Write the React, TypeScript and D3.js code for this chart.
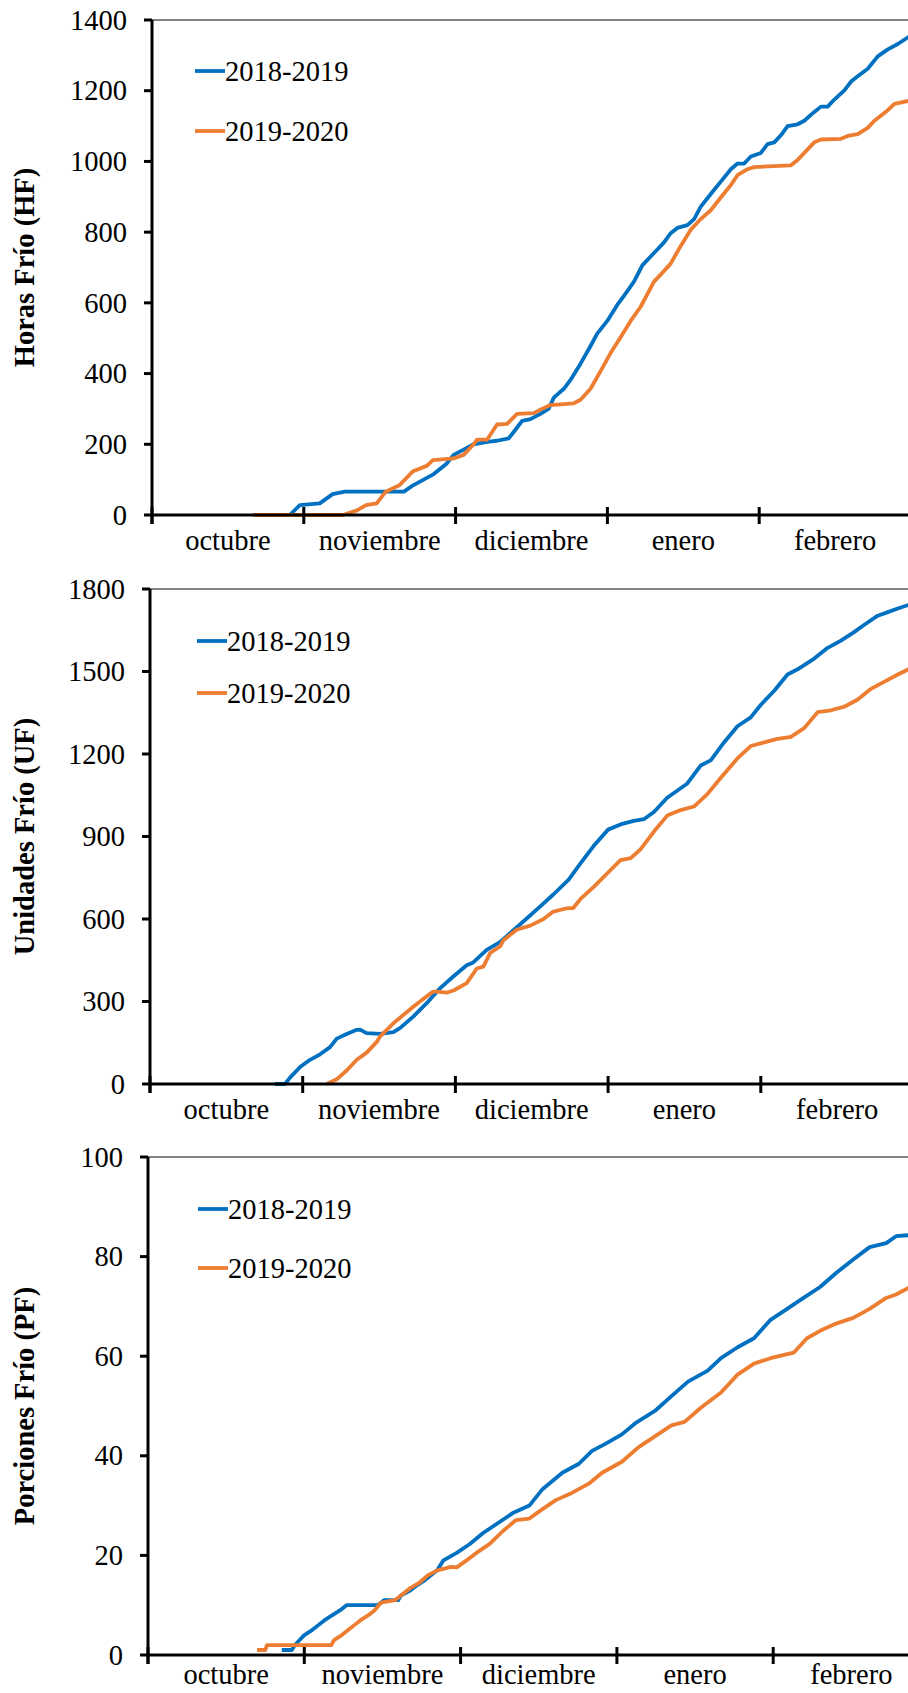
import React from 'react';
import * as d3 from 'd3';

// Month categories on the x axis (Oct 1 → Mar 1, one unit per month)
const MONTHS = ['octubre', 'noviembre', 'diciembre', 'enero', 'febrero'];
const SEASONS = ['2018-2019', '2019-2020'];
const COLORS = ['#0070C0', '#ED7D31'];

// Accumulated chill, [months since Oct 1, value]
const hf1819: [number, number][] = [
  [0.908, 0], [0.974, 28], [1.105, 33], [1.19, 59], [1.27, 66], [1.66, 66], [1.72, 84], [1.85, 114],
  [1.94, 145], [1.987, 170], [2.053, 185], [2.119, 200], [2.207, 207], [2.273, 210], [2.35, 217],
  [2.394, 241], [2.438, 266], [2.493, 271], [2.559, 286], [2.614, 301], [2.647, 332], [2.713, 357],
  [2.757, 382], [2.823, 428], [2.889, 478], [2.933, 513], [2.999, 549], [3.065, 594], [3.109, 620],
  [3.175, 660], [3.23, 706], [3.285, 731], [3.329, 751], [3.373, 771], [3.417, 797], [3.461, 812],
  [3.527, 820], [3.571, 837], [3.615, 872], [3.681, 908], [3.747, 943], [3.813, 978], [3.857, 994],
  [3.901, 994], [3.945, 1014], [4.011, 1024], [4.055, 1049], [4.099, 1054], [4.143, 1074],
  [4.187, 1100], [4.253, 1105], [4.297, 1115], [4.363, 1140], [4.407, 1155], [4.451, 1155],
  [4.495, 1175], [4.561, 1201], [4.605, 1226], [4.649, 1241], [4.715, 1262], [4.781, 1297],
  [4.847, 1317], [4.913, 1332], [4.983, 1352], [5.0, 1355],
];
const hf1920: [number, number][] = [
  [0.667, 0], [1.258, 0], [1.35, 13], [1.41, 28], [1.48, 33], [1.54, 66], [1.63, 84], [1.72, 124],
  [1.81, 139], [1.85, 155], [1.987, 160], [2.053, 170], [2.119, 200], [2.141, 213], [2.207, 213],
  [2.273, 256], [2.339, 258], [2.405, 286], [2.515, 288], [2.559, 298], [2.625, 311], [2.779, 316],
  [2.823, 326], [2.889, 357], [2.955, 407], [3.021, 458], [3.087, 503], [3.153, 549], [3.219, 589],
  [3.307, 660], [3.351, 680], [3.417, 711], [3.483, 761], [3.549, 807], [3.615, 837], [3.681, 862],
  [3.747, 898], [3.813, 933], [3.857, 961], [3.923, 978], [3.967, 984], [4.209, 989], [4.253, 1004],
  [4.319, 1034], [4.363, 1054], [4.407, 1062], [4.539, 1064], [4.583, 1072], [4.649, 1077],
  [4.715, 1095], [4.759, 1115], [4.847, 1145], [4.891, 1163], [4.983, 1171], [5.0, 1172],
];

const uf1819: [number, number][] = [
  [0.819, 0], [0.884, 0], [0.917, 23], [0.983, 62], [1.048, 88], [1.114, 108], [1.179, 134],
  [1.223, 165], [1.288, 182], [1.354, 197], [1.376, 198], [1.419, 185], [1.507, 182], [1.594, 189],
  [1.637, 203], [1.724, 245], [1.812, 294], [1.899, 348], [1.986, 391], [2.074, 432], [2.117, 442],
  [2.205, 488], [2.292, 516], [2.423, 580], [2.554, 645], [2.643, 690], [2.742, 743], [2.818, 801],
  [2.906, 866], [3.0, 925], [3.081, 944], [3.168, 957], [3.234, 963], [3.3, 989], [3.387, 1041],
  [3.519, 1093], [3.606, 1158], [3.672, 1177], [3.759, 1242], [3.847, 1301], [3.934, 1333],
  [3.999, 1378], [4.088, 1430], [4.175, 1489], [4.241, 1508], [4.35, 1547], [4.438, 1586],
  [4.525, 1612], [4.613, 1644], [4.678, 1670], [4.766, 1703], [4.832, 1716], [4.897, 1729],
  [4.967, 1742], [5.0, 1748],
];
const uf1920: [number, number][] = [
  [1.157, 0], [1.223, 17], [1.288, 49], [1.354, 88], [1.419, 114], [1.485, 153], [1.506, 172],
  [1.594, 221], [1.724, 281], [1.834, 328], [1.855, 336], [1.878, 336], [1.943, 332], [1.991, 341],
  [2.074, 367], [2.14, 420], [2.183, 427], [2.228, 477], [2.292, 500], [2.315, 523], [2.401, 561],
  [2.49, 576], [2.578, 600], [2.641, 627], [2.731, 639], [2.772, 640], [2.818, 672], [2.906, 717],
  [3.0, 769], [3.081, 814], [3.147, 821], [3.212, 853], [3.3, 918], [3.387, 976], [3.475, 996],
  [3.562, 1009], [3.65, 1054], [3.737, 1113], [3.847, 1184], [3.934, 1229], [4.022, 1242],
  [4.109, 1255], [4.197, 1262], [4.284, 1294], [4.372, 1352], [4.46, 1359], [4.547, 1372],
  [4.635, 1398], [4.722, 1437], [4.81, 1463], [4.897, 1489], [4.967, 1508], [5.0, 1512],
];

const pf1819: [number, number][] = [
  [0.856, 1], [0.92, 1], [0.94, 2], [0.97, 3], [1.0, 4], [1.05, 5], [1.09, 6], [1.13, 7], [1.18, 8],
  [1.23, 9], [1.27, 10], [1.47, 10], [1.51, 11], [1.6, 11], [1.62, 12], [1.68, 13], [1.72, 14],
  [1.77, 15], [1.81, 16], [1.85, 17], [1.89, 19], [1.975, 20.5], [2.059, 22.3], [2.144, 24.5],
  [2.249, 26.7], [2.334, 28.5], [2.44, 30], [2.524, 33.3], [2.651, 36.6], [2.757, 38.4],
  [2.841, 41], [2.926, 42.4], [3.032, 44.3], [3.116, 46.5], [3.243, 49], [3.349, 52],
  [3.455, 54.9], [3.581, 57.1], [3.666, 59.6], [3.772, 61.8], [3.877, 63.6], [3.983, 67.3],
  [4.089, 69.5], [4.194, 71.7], [4.3, 73.9], [4.406, 76.8], [4.512, 79.4], [4.617, 81.9],
  [4.723, 82.7], [4.786, 84.1], [4.87, 84.3],
];
const pf1920: [number, number][] = [
  [0.698, 1], [0.75, 1], [0.761, 2], [1.173, 2], [1.19, 3], [1.24, 4], [1.28, 5], [1.32, 6],
  [1.36, 7], [1.41, 8], [1.45, 9], [1.49, 10.5], [1.58, 11], [1.62, 12], [1.68, 13.5], [1.74, 14.6],
  [1.79, 16], [1.85, 17], [1.94, 17.7], [1.975, 17.6], [2.038, 19], [2.101, 20.5], [2.186, 22.3],
  [2.271, 24.9], [2.355, 27.1], [2.44, 27.4], [2.524, 29.3], [2.609, 31.1], [2.715, 32.6],
  [2.82, 34.4], [2.905, 36.6], [3.032, 38.8], [3.137, 41.7], [3.243, 43.9], [3.349, 46.1],
  [3.433, 46.8], [3.539, 49.7], [3.666, 52.7], [3.772, 56.3], [3.877, 58.5], [3.983, 59.6],
  [4.131, 60.7], [4.216, 63.6], [4.3, 65.1], [4.406, 66.6], [4.512, 67.7], [4.617, 69.5],
  [4.723, 71.7], [4.786, 72.4], [4.87, 73.8],
];

const HF_TICKS = [0, 200, 400, 600, 800, 1000, 1200, 1400];
const UF_TICKS = [0, 300, 600, 900, 1200, 1500, 1800];
const PF_TICKS = [0, 20, 40, 60, 80, 100];

const FONT = "'Liberation Serif', 'Times New Roman', serif";
const FS = 28.5;

type PanelProps = {
  title: string;
  ticks: number[];
  series: [number, number][][];
  axisX: number;
  monthW: number;
  top: number;
  bottom: number;
  labelDy: number;
  legendDx: number;
  legendDy: [number, number];
};

function Panel({ title, ticks, series, axisX, monthW, top, bottom, labelDy, legendDx, legendDy }: PanelProps) {
  const x = d3.scaleLinear().domain([0, MONTHS.length]).range([axisX, axisX + MONTHS.length * monthW]);
  const y = d3.scaleLinear().domain([0, ticks[ticks.length - 1]]).range([bottom, top]);
  const line = d3
    .line<[number, number]>()
    .x((d) => x(d[0]))
    .y((d) => y(d[1]));
  const monthBounds = d3.range(MONTHS.length + 1);

  return (
    <g>
      {/* plot area top edge */}
      <line x1={axisX} x2={920} y1={top} y2={top} stroke="#5a5a5a" strokeWidth={1.5} />

      {series.map((s, i) => (
        <path
          key={SEASONS[i]}
          d={line(s) || ''}
          fill="none"
          stroke={COLORS[i]}
          strokeWidth={3.8}
          strokeLinejoin="round"
        />
      ))}

      {/* y axis */}
      <line x1={axisX} x2={axisX} y1={top} y2={bottom + 9} stroke="#000" strokeWidth={3} />
      {ticks.map((t) => (
        <g key={t}>
          <line x1={axisX - 8} x2={axisX} y1={y(t)} y2={y(t)} stroke="#000" strokeWidth={3} />
          <text
            x={axisX - 25}
            y={y(t)}
            dy="0.34em"
            textAnchor="end"
            fontFamily={FONT}
            fontSize={FS}
            fill="#000"
          >
            {t}
          </text>
        </g>
      ))}

      {/* x axis */}
      <line x1={axisX} x2={920} y1={bottom} y2={bottom} stroke="#000" strokeWidth={3} />
      {monthBounds.map((m) => (
        <line key={m} x1={x(m)} x2={x(m)} y1={bottom - 8} y2={bottom + 9} stroke="#000" strokeWidth={3} />
      ))}
      {MONTHS.map((name, i) => (
        <text
          key={name}
          x={x(i + 0.5)}
          y={bottom + labelDy}
          textAnchor="middle"
          fontFamily={FONT}
          fontSize={FS}
          fill="#000"
        >
          {name}
        </text>
      ))}

      {/* axis title */}
      <text
        transform={`translate(24, ${(top + bottom) / 2}) rotate(-90)`}
        dy="0.35em"
        textAnchor="middle"
        fontFamily={FONT}
        fontWeight="bold"
        fontSize={FS}
        fill="#000"
      >
        {title}
      </text>

      {/* legend */}
      {SEASONS.map((s, i) => {
        const ly = top + legendDy[i];
        return (
          <g key={s}>
            <line
              x1={axisX + legendDx}
              x2={axisX + legendDx + 30}
              y1={ly}
              y2={ly}
              stroke={COLORS[i]}
              strokeWidth={3.8}
            />
            <text
              x={axisX + legendDx + 30}
              y={ly}
              dy="0.34em"
              fontFamily={FONT}
              fontSize={FS}
              fill="#000"
            >
              {s}
            </text>
          </g>
        );
      })}
    </g>
  );
}

export default function App() {
  return (
    <svg
      width={908}
      height={1693}
      viewBox="0 0 908 1693"
      style={{ position: 'absolute', left: 0, top: 0, background: '#fff' }}
    >
      <rect width={908} height={1693} fill="#fff" />
      <Panel
        title="Horas Frío (HF)"
        ticks={HF_TICKS}
        series={[hf1819, hf1920]}
        axisX={152}
        monthW={151.8}
        top={20}
        bottom={515}
        labelDy={35}
        legendDx={43}
        legendDy={[51, 111]}
      />
      <Panel
        title="Unidades Frío (UF)"
        ticks={UF_TICKS}
        series={[uf1819, uf1920]}
        axisX={150}
        monthW={152.7}
        top={589}
        bottom={1084}
        labelDy={35}
        legendDx={47}
        legendDy={[52, 104]}
      />
      <Panel
        title="Porciones Frío (PF)"
        ticks={PF_TICKS}
        series={[pf1819, pf1920]}
        axisX={148}
        monthW={156.3}
        top={1157}
        bottom={1655}
        labelDy={29}
        legendDx={50}
        legendDy={[52, 111]}
      />
    </svg>
  );
}
